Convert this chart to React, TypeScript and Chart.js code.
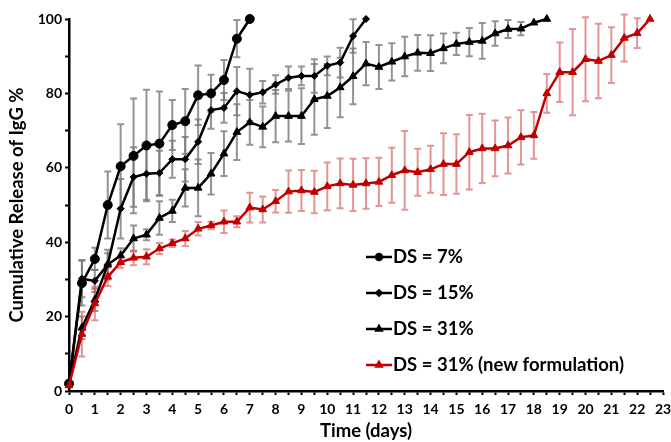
import React, { useEffect, useRef } from "react";
import { Chart, registerables } from "chart.js";
import { drawPoint } from "chart.js/helpers";

Chart.register(...registerables);

const DAYS = [
  0, 0.5, 1, 1.5, 2, 2.5, 3, 3.5, 4, 4.5, 5, 5.5, 6, 6.5, 7, 7.5, 8, 8.5, 9, 9.5,
  10, 10.5, 11, 11.5, 12, 12.5, 13, 13.5, 14, 14.5, 15, 15.5, 16, 16.5, 17, 17.5,
  18, 18.5, 19, 19.5, 20, 20.5, 21, 21.5, 22, 22.5,
];

const LABELS = ["DS = 7%", "DS = 15%", "DS = 31%", "DS = 31% (new formulation)"];

const DS7 = [2, 29, 35.5, 50, 60.4, 63.2, 66, 66.5, 71.5, 72.5, 79.5, 80, 83.6, 94.7, 100];
const DS7_ERR = [0, 6, 3, 9, 11.3, 15.4, 15, 14, 6.7, 8.7, 8, 5, 5.4, 5, 0];

const DS15 = [
  2, 30.2, 29.6, 34, 49, 57.5, 58.4, 58.6, 62.3, 62.3, 67, 75.5, 76.1, 80.6, 79.6,
  80.3, 82.4, 84.2, 84.7, 84.7, 87.4, 88.3, 95.4, 100,
];
const DS15_ERR = [
  0, 5, 3, 4, 8, 8, 7, 6, 5, 6, 6, 5, 4, 6.5, 7, 3, 2.5, 3, 2.5, 4.5, 2.5, 4, 4.5, 0,
];

const DS31 = [
  2, 17, 24.5, 34, 36.4, 41, 42, 46.5, 48.4, 54.6, 54.6, 58.4, 63.8, 69.6, 72.2, 71,
  73.9, 73.9, 73.9, 78.4, 79.3, 81.6, 84.6, 88, 87.1, 88.5, 89.9, 90.9, 90.8, 92.1,
  93.3, 93.8, 94.1, 96.1, 97.3, 97.4, 99, 100,
];
const DS31_ERR = [
  0, 3, 3, 3, 2, 3.5, 1.5, 4.5, 3, 5, 7.6, 5.6, 6, 7.5, 6, 5.5, 7, 6.8, 7.5, 9.5, 8.6,
  8, 7.5, 5.8, 5.9, 5, 5.3, 4.8, 4.8, 4, 3, 3.8, 4.8, 3.3, 2.4, 1.8, 0, 0,
];

const NEW31 = [
  1.5, 15.3, 23.5, 30.7, 34.6, 35.8, 36.1, 38.3, 39.7, 41, 43.6, 44.5, 45.5, 45.5,
  49.3, 48.8, 51, 53.6, 53.9, 53.5, 55, 55.8, 55.4, 55.8, 56.2, 58, 59.3, 58.8, 59.6,
  61, 61, 64.2, 65.2, 65.2, 66, 68.2, 68.7, 80, 85.7, 85.7, 89.2, 88.7, 90.3, 94.9,
  96.2, 100,
];
const NEW31_ERR = [
  0, 6, 4.5, 2.5, 1.5, 2, 2, 1.5, 1, 2, 1.8, 1, 3, 1.5, 4, 3.5, 3, 5.7, 5.5, 5.7, 6.4,
  6.7, 7, 6.8, 6.5, 7.4, 10.6, 6.3, 6.3, 8.3, 8, 10, 9.3, 7.5, 7.5, 7.3, 6.3, 5.2, 8,
  11.6, 11.3, 10, 7.5, 6.3, 4, 0,
];

const FONT = "Lato, 'Open Sans', sans-serif";
const BLACK = "#000000";
const RED = "#C00000";

const toPoints = (vals: number[]) => vals.map((v, i) => ({ x: DAYS[i], y: v }));

const errorBarPlugin = {
  id: "errorBars",
  beforeDatasetsDraw(chart: any) {
    const ctx = chart.ctx;
    const xs = chart.scales.x;
    const ys = chart.scales.y;
    chart.data.datasets.forEach((ds: any) => {
      const errs: number[] = ds.errors || [];
      ctx.save();
      ctx.strokeStyle = ds.errorColor;
      ctx.lineWidth = 2;
      ds.data.forEach((p: any, i: number) => {
        const e = errs[i] || 0;
        if (!e) return;
        const x = xs.getPixelForValue(p.x);
        const yt = ys.getPixelForValue(p.y + e);
        const yb = ys.getPixelForValue(p.y - e);
        ctx.beginPath();
        ctx.moveTo(x, yt);
        ctx.lineTo(x, yb);
        ctx.moveTo(x - 3.5, yt);
        ctx.lineTo(x + 3.5, yt);
        ctx.moveTo(x - 3.5, yb);
        ctx.lineTo(x + 3.5, yb);
        ctx.stroke();
      });
      ctx.restore();
    });
  },
};

const legendPlugin = {
  id: "customLegend",
  afterDraw(chart: any) {
    const ctx = chart.ctx;
    const x0 = 366;
    const rows = [257, 293, 329, 365];
    ctx.save();
    chart.data.datasets.forEach((ds: any, i: number) => {
      const y = rows[i];
      ctx.strokeStyle = ds.borderColor;
      ctx.lineWidth = 2.5;
      ctx.beginPath();
      ctx.moveTo(x0, y);
      ctx.lineTo(x0 + 26, y);
      ctx.stroke();
      ctx.fillStyle = ds.borderColor;
      drawPoint(
        ctx,
        {
          pointStyle: ds.pointStyle,
          radius: ds.pointStyle === "rectRot" ? 2.5 : 3,
          rotation: 0,
          borderWidth: 1,
        } as any,
        x0 + 13,
        y
      );
      ctx.fillStyle = "#000";
      ctx.font = `bold 18.5px ${FONT}`;
      ctx.textAlign = "left";
      ctx.textBaseline = "middle";
      ctx.fillText(ds.label, x0 + 27, y);
    });
    ctx.restore();
  },
};

export default function App() {
  const ref = useRef<HTMLCanvasElement | null>(null);

  useEffect(() => {
    if (!ref.current) return;
    const mk = (
      label: string,
      vals: number[],
      errs: number[],
      color: string,
      errColor: string,
      style: string,
      radius: number,
      order: number
    ) => ({
      label,
      data: toPoints(vals),
      errors: errs,
      errorColor: errColor,
      borderColor: color,
      backgroundColor: color,
      pointBackgroundColor: color,
      pointBorderColor: color,
      pointStyle: style,
      pointRadius: radius,
      pointBorderWidth: 1,
      borderWidth: 2.5,
      showLine: true,
      tension: 0,
      clip: false,
      order,
    });

    const chart = new Chart(ref.current, {
      type: "scatter",
      data: {
        datasets: [
          mk(LABELS[0], DS7, DS7_ERR, BLACK, "rgba(120,120,120,0.8)", "circle", 4.5, 3),
          mk(LABELS[1], DS15, DS15_ERR, BLACK, "rgba(120,120,120,0.8)", "rectRot", 3.5, 2),
          mk(LABELS[2], DS31, DS31_ERR, BLACK, "rgba(120,120,120,0.8)", "triangle", 4.5, 1),
          mk(LABELS[3], NEW31, NEW31_ERR, RED, "rgba(215,90,90,0.65)", "triangle", 4.5, 0),
        ] as any,
      },
      options: {
        animation: false,
        responsive: false,
        maintainAspectRatio: false,
        layout: { padding: { top: 19, right: 8, left: 0, bottom: 0 } },
        plugins: {
          legend: { display: false },
          tooltip: { enabled: false },
        },
        scales: {
          x: {
            type: "linear",
            min: 0,
            max: 23,
            border: { color: BLACK, width: 2.5 },
            grid: {
              drawOnChartArea: false,
              drawTicks: true,
              tickLength: 4,
              tickColor: BLACK,
              tickWidth: 2,
            },
            ticks: {
              stepSize: 0.5,
              autoSkip: false,
              maxRotation: 0,
              padding: 6,
              color: BLACK,
              font: { family: FONT, size: 14, weight: "bold" },
              callback: (v: any) => (Number.isInteger(v) ? String(v) : ""),
            },
            title: {
              display: true,
              text: "Time (days)",
              color: BLACK,
              font: { family: FONT, size: 18.5, weight: "bold" },
              padding: { top: 0, bottom: 0 },
            },
            afterFit: (s: any) => {
              s.height = 51;
              s.paddingRight = 0;
            },
          },
          y: {
            type: "linear",
            min: 0,
            max: 100,
            border: { color: BLACK, width: 2.5 },
            grid: {
              drawOnChartArea: false,
              drawTicks: true,
              tickLength: 4,
              tickColor: BLACK,
              tickWidth: 2,
            },
            ticks: {
              stepSize: 10,
              autoSkip: false,
              padding: 3,
              color: BLACK,
              font: { family: FONT, size: 14, weight: "bold" },
              callback: (v: any) => (v % 20 === 0 ? String(v) : ""),
            },
            title: {
              display: true,
              text: "Cumulative Release of IgG %",
              color: BLACK,
              font: { family: FONT, size: 18.5, weight: "bold" },
              padding: { top: 6, bottom: 0 },
            },
            afterFit: (s: any) => {
              s.width = 69;
            },
          },
        },
      } as any,
      plugins: [errorBarPlugin, legendPlugin],
    });
    return () => chart.destroy();
  }, []);

  return (
    <div
      style={{
        position: "absolute",
        left: 0,
        top: 0,
        width: 671,
        height: 442,
        overflow: "hidden",
        background: "#fff",
      }}
    >
      <canvas ref={ref} width={671} height={442} style={{ width: 671, height: 442 }} />
    </div>
  );
}
